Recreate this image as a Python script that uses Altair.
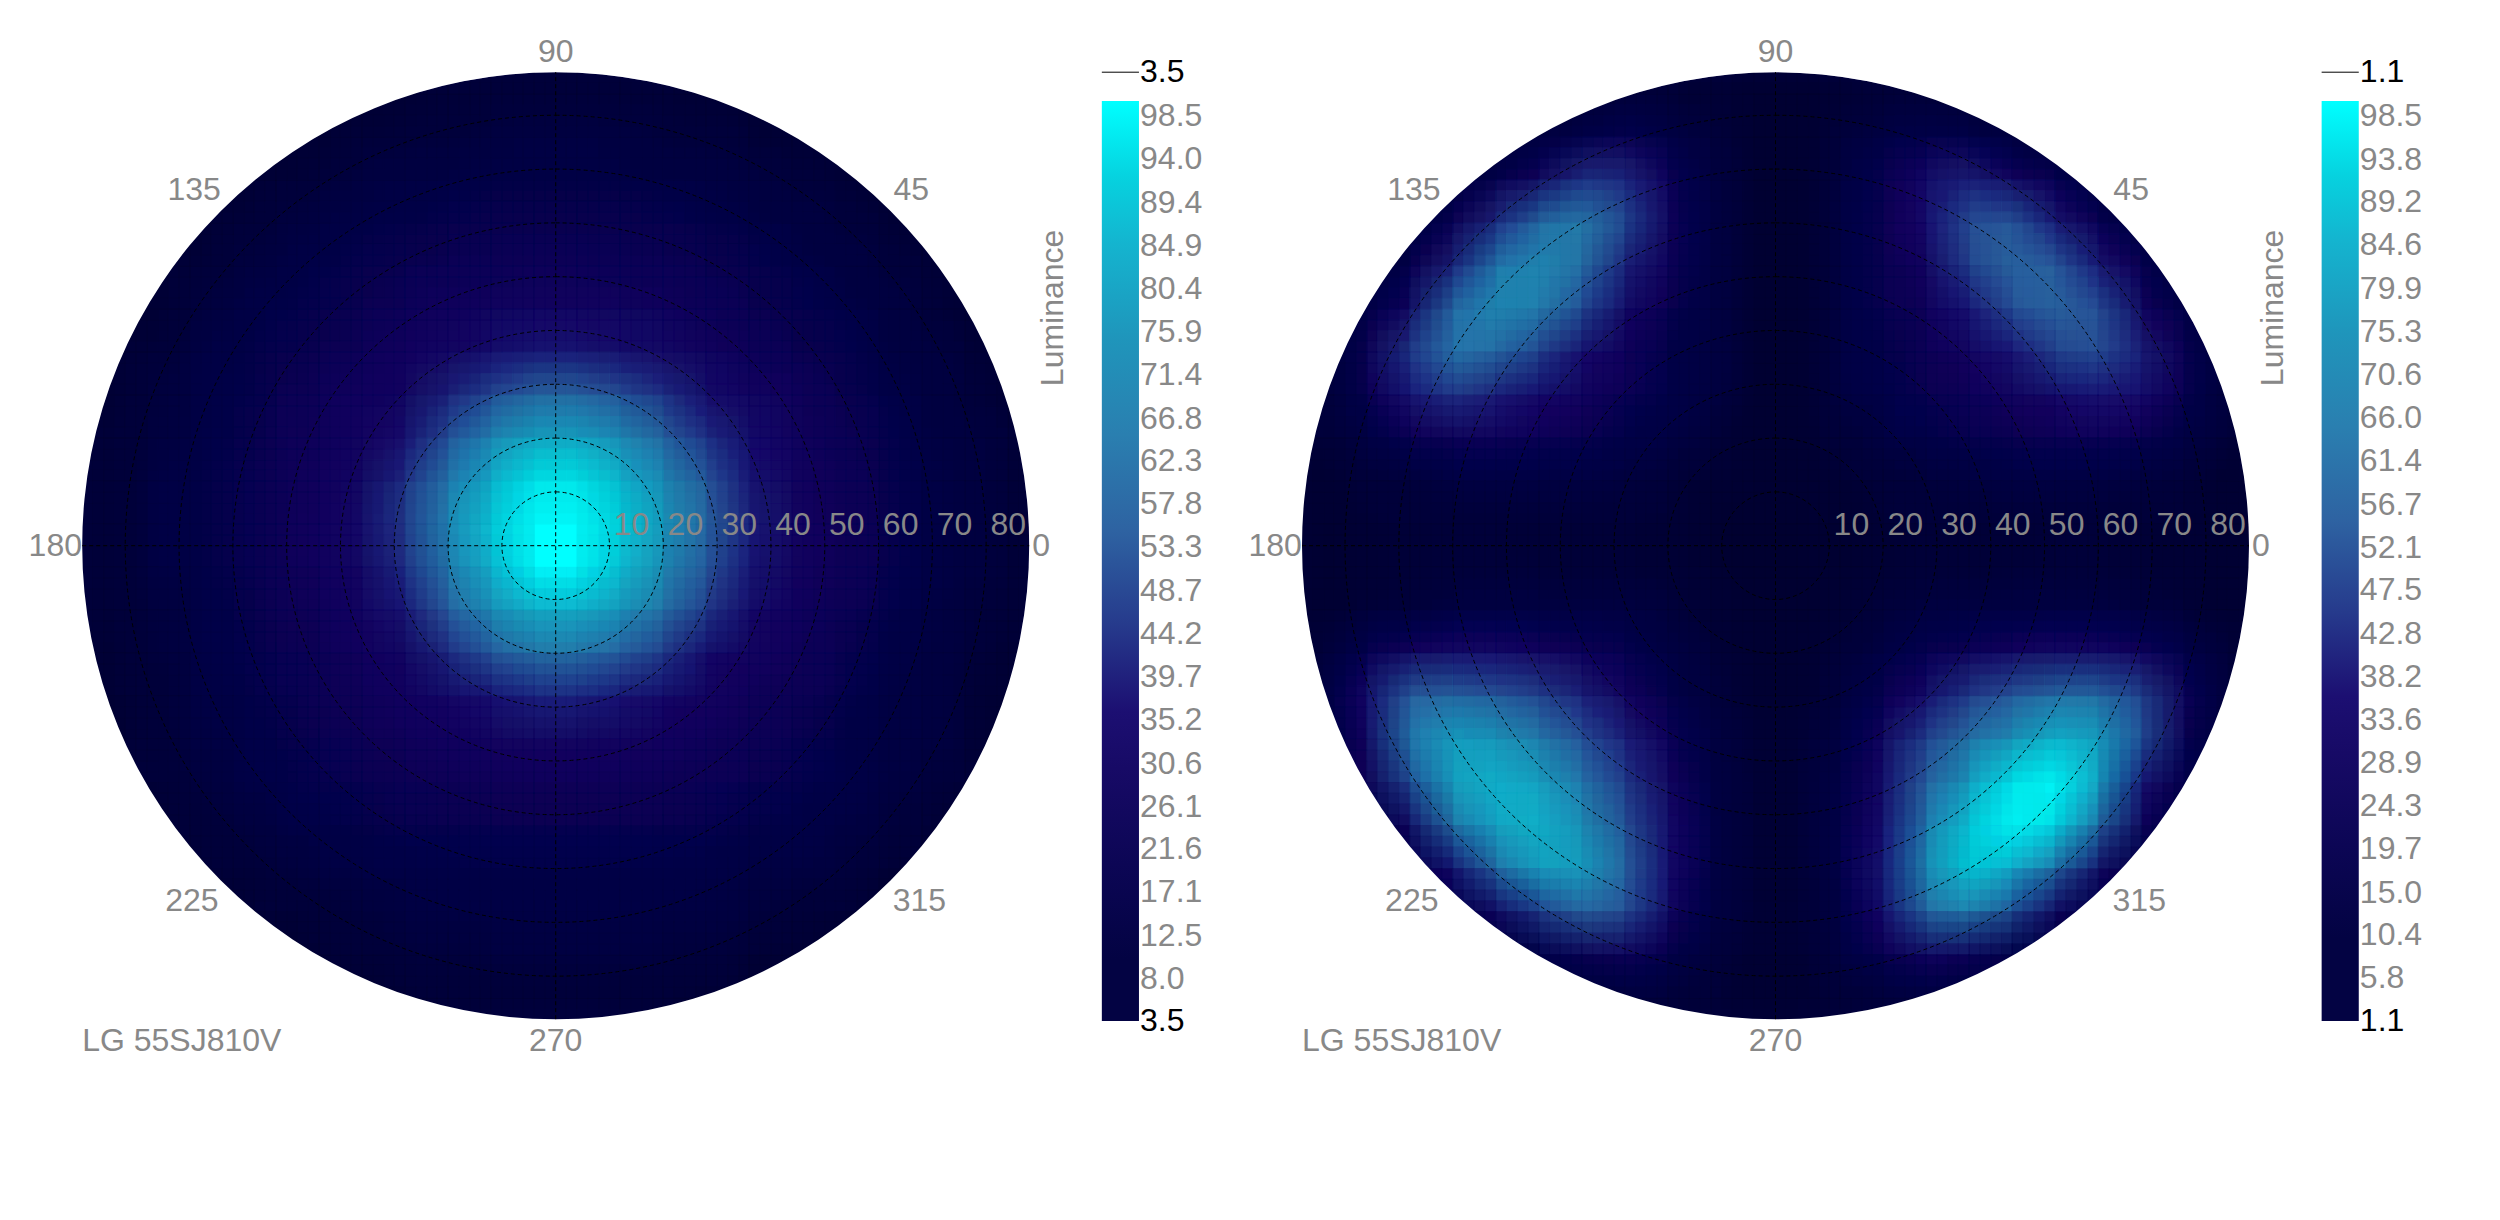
import math
import altair as alt
import pandas as pd

alt.data_transformers.disable_max_rows()

# luminance on an 8-degree grid (0 = outside the disc)
grid_x = [-84,-76,-68,-60,-52,-44,-36,-28,-20,-12,-4,4,12,20,28,36,44,52,60,68,76,84]
grid_y = [84,76,68,60,52,44,36,28,20,12,4,-4,-12,-20,-28,-36,-44,-52,-60,-68,-76,-84]
left_rows = [
 [0,0,0,0,0,0,6,6,7,8,8,8,8,7,6,6,0,0,0,0,0,0],
 [0,0,0,0,5,6,8,9,10,11,12,12,11,10,9,8,6,5,0,0,0,0],
 [0,0,0,6,8,9,11,13,14,15,15,15,15,14,13,11,9,8,6,0,0,0],
 [0,0,6,8,10,13,15,17,19,20,20,20,20,19,17,15,13,10,8,6,0,0],
 [0,5,8,10,13,16,19,21,23,24,25,25,24,23,21,19,16,13,10,8,5,0],
 [0,6,9,13,16,19,22,25,27,29,30,30,29,27,25,22,19,16,13,9,6,0],
 [6,8,11,15,19,22,25,28,31,35,38,38,35,32,29,26,22,19,15,11,8,6],
 [6,9,13,17,21,25,28,30,40,50,58,58,52,44,34,30,27,22,17,13,9,6],
 [7,10,14,18,23,26,30,36,52,70,80,80,72,58,44,34,29,24,19,15,11,7],
 [7,11,15,19,24,27,31,44,64,84,96,96,86,72,54,38,30,25,20,16,11,7],
 [7,11,15,19,24,28,33,47,70,90,100,100,92,76,58,40,31,26,21,16,11,7],
 [7,11,15,19,24,27,32,44,64,86,100,100,88,72,54,38,30,25,20,16,11,7],
 [7,10,14,18,23,26,30,38,56,74,84,84,76,62,46,33,28,24,19,15,10,7],
 [6,9,13,17,21,24,27,31,42,54,62,62,56,46,34,30,26,22,17,13,9,6],
 [6,8,12,15,19,23,25,28,32,37,41,41,38,33,30,26,23,19,15,12,8,6],
 [5,8,11,14,18,21,24,26,28,30,31,31,30,28,26,24,21,18,14,11,8,5],
 [0,7,10,13,16,19,21,23,24,25,25,25,25,24,23,21,19,16,13,10,7,0],
 [0,5,8,10,13,16,18,19,20,21,21,21,21,20,19,18,16,13,10,8,5,0],
 [0,0,6,8,10,12,14,15,16,17,17,17,17,16,15,14,12,10,8,6,0,0],
 [0,0,0,5,7,8,10,12,13,14,14,14,14,13,12,10,8,7,5,0,0,0],
 [0,0,0,0,5,6,8,9,10,11,11,11,11,10,9,8,6,5,0,0,0,0],
 [0,0,0,0,0,0,5,6,7,8,8,8,8,7,6,5,0,0,0,0,0,0],
]
# right panel by quadrant: each row runs outward in |x|, rows run outward in |y|
right_q1 = [
 [4,5,6,7,7,7,8,8,7,6,5],[5,6,8,10,11,12,13,12,10,8,5],[5,8,13,16,19,22,24,24,21,14,7],
 [5,11,16,21,25,29,33,38,36,20,8],[5,12,18,24,30,38,48,52,40,22,8],[5,12,20,26,38,52,58,52,30,14,0],
 [5,12,21,30,48,58,56,38,20,8,0],[5,12,22,36,52,54,38,22,9,0,0],[5,11,20,34,40,30,20,10,0,0,0],
 [5,9,14,18,16,10,6,0,0,0,0],[5,6,7,7,6,0,0,0,0,0,0],
]
right_q2 = [
 [4,5,6,7,7,7,8,8,7,6,5],[5,6,8,10,12,13,13,12,10,8,5],[5,8,13,16,21,24,26,26,21,14,7],
 [5,11,16,23,29,34,40,45,38,20,8],[5,12,18,26,36,48,60,64,46,22,8],[5,13,22,32,50,68,72,60,30,14,0],
 [5,13,25,40,62,72,64,40,18,8,0],[5,12,28,50,66,60,42,22,9,0,0],[5,11,26,42,44,30,18,9,0,0,0],
 [5,9,15,20,16,10,6,0,0,0,0],[5,6,7,7,6,0,0,0,0,0,0],
]
right_q3 = [
 [4,5,6,7,7,8,8,8,7,6,5],[5,6,9,11,12,13,13,12,10,8,5],[5,8,14,20,25,30,33,33,30,20,8],
 [5,10,18,30,40,48,54,58,56,35,10],[6,13,25,40,52,66,76,80,64,30,9],[6,14,30,46,64,80,86,80,50,20,0],
 [6,15,33,52,74,86,82,62,30,10,0],[6,15,35,58,80,80,60,35,14,0,0],[6,13,32,52,58,46,28,14,0,0,0],
 [6,10,18,26,22,14,8,0,0,0,0],[5,7,8,9,7,0,0,0,0,0,0],
]
right_q4 = [
 [4,5,6,7,7,8,8,8,7,6,5],[5,6,9,11,12,13,13,12,10,8,5],[5,8,14,20,25,30,32,32,28,16,7],
 [5,10,20,34,46,54,60,60,48,25,8],[6,13,30,48,62,74,86,80,52,22,8],[6,15,33,56,78,96,100,80,38,15,0],
 [6,16,36,64,90,100,94,58,25,10,0],[6,16,38,72,92,84,60,32,12,0,0],[6,14,35,60,66,50,28,12,0,0,0],
 [6,11,20,30,25,14,8,0,0,0,0],[5,7,9,10,8,0,0,0,0,0,0],
]
right_rows = [q2[::-1] + q1 for q2, q1 in zip(right_q2[::-1], right_q1[::-1])] + \
             [q3[::-1] + q4 for q3, q4 in zip(right_q3, right_q4)]

left_ticks = [98.5,94.0,89.4,84.9,80.4,75.9,71.4,66.8,62.3,57.8,53.3,48.7,44.2,39.7,35.2,30.6,26.1,21.6,17.1,12.5,8.0]
right_ticks = [98.5,93.8,89.2,84.6,79.9,75.3,70.6,66.0,61.4,56.7,52.1,47.5,42.8,38.2,33.6,28.9,24.3,19.7,15.0,10.4,5.8]
left_min, right_min = 3.5, 1.1
rho_labels = [10,20,30,40,50,60,70,80]
angle_labels = [0,45,90,135,180,225,270,315]
title_text = "LG 55SJ810V"

lum_stops = [0, 10, 20, 30, 36, 45, 55, 65, 75, 85, 92, 100]
lum_colors = ["#00002e","#030343","#0c0655","#170a66","#1c0f72","#263a8c","#2e63a2","#2a7fb0","#1f95bb","#14b4cf","#06d2df","#00ffff"]

# layout
W, H = 2484, 1204
K = 473.5 / 88         # px per degree
CX, CY = 547.7, 537.7  # centre of the left disc within the plot area
DX2 = 1219.8 / K       # second panel offset, in degrees
xs = alt.Scale(domain=[-CX / K, (W - CX) / K], range=[0, W], nice=False, zero=False)
ys = alt.Scale(domain=[(CY - H) / K, CY / K], range=[H, 0], nice=False, zero=False)
rs = alt.Scale(type="linear", domain=[0, 110], range=[0, 110 * K], nice=False)
ts = alt.Scale(domain=[0, 360], range=[0, 2 * math.pi])
FONT = "Liberation Sans"
GREY = "#888888"
OFFSETS = (-4, -2, 0, 2, 4)   # overlaid copies of the grid, each at opacity 1/k

X = lambda f: alt.X(f, scale=xs, axis=None)
Y = lambda f: alt.Y(f, scale=ys, axis=None)

def heat(rows, off):
    half = 4.1
    recs = []
    k = 0
    for dy in OFFSETS:
        for dx in OFFSETS:
            k += 1
            for gy, row in zip(grid_y, rows):
                for gx, v in zip(grid_x, row):
                    if v > 0:
                        recs.append(dict(x=round(gx + dx - half + off, 2), x2=round(gx + dx + half + off, 2),
                                         y=round(gy + dy - half, 2), y2=round(gy + dy + half, 2), v=v, op=round(1 / k, 4)))
    return alt.Chart(pd.DataFrame(recs)).mark_rect(strokeWidth=0).encode(
        x=X("x:Q"), x2="x2:Q", y=Y("y:Q"), y2="y2:Q",
        color=alt.Color("v:Q", scale=alt.Scale(domain=lum_stops, range=lum_colors, interpolate="rgb", clamp=True), legend=None),
        opacity=alt.Opacity("op:Q", scale=None),
    )

def disc(off, r, r2, style):
    d = pd.DataFrame([dict(cx=off, cy=0, t=0, t2=360, r=r, r2=r2)])
    return alt.Chart(d).mark_arc(**style).encode(
        x=X("cx:Q"), y=Y("cy:Q"),
        theta=alt.Theta("t:Q", scale=ts, stack=None), theta2="t2:Q",
        radius=alt.Radius("r:Q", scale=rs), radius2="r2:Q",
    )

def rings(off):
    d = pd.DataFrame([dict(cx=off, cy=0, t=0, t2=360, r=r) for r in rho_labels])
    return alt.Chart(d).mark_arc(filled=False, stroke="black", strokeWidth=1, strokeDash=[4, 3]).encode(
        x=X("cx:Q"), y=Y("cy:Q"),
        theta=alt.Theta("t:Q", scale=ts, stack=None), theta2="t2:Q",
        radius=alt.Radius("r:Q", scale=rs),
    )

def cross(off):
    d = pd.DataFrame([dict(x=off - 88, x2=off + 88, y=0, y2=0), dict(x=off, x2=off, y=-88, y2=88)])
    return alt.Chart(d).mark_rule(color="black", strokeWidth=1, strokeDash=[4, 3]).encode(
        x=X("x:Q"), x2="x2:Q", y=Y("y:Q"), y2="y2:Q")

def texts(off, vmin, ticks):
    layers = []
    base = dict(font=FONT, fontSize=32, color=GREY)
    d = pd.DataFrame([dict(x=off + r + 0.8, y=4, t=str(r)) for r in rho_labels])
    layers.append(alt.Chart(d).mark_text(align="left", baseline="middle", dy=1, **base).encode(x=X("x:Q"), y=Y("y:Q"), text="t:N"))
    pos = {0: (90.2, 0), 45: (66.1, 66.1), 90: (0, 91.7), 135: (-67.2, 66.1), 180: (-93.0, 0),
           225: (-67.6, -66.1), 270: (0, -92.0), 315: (67.6, -66.1)}
    d = pd.DataFrame([dict(x=off + pos[a][0], y=pos[a][1], t=str(a)) for a in angle_labels])
    layers.append(alt.Chart(d).mark_text(align="center", baseline="middle", **base).encode(x=X("x:Q"), y=Y("y:Q"), text="t:N"))
    d = pd.DataFrame([dict(x=off - 88.0, y=-92.0, t=title_text)])
    layers.append(alt.Chart(d).mark_text(align="left", baseline="middle", **base).encode(x=X("x:Q"), y=Y("y:Q"), text="t:N"))
    d = pd.DataFrame([dict(x=off + 92.5, y=44.2, t="Luminance")])
    layers.append(alt.Chart(d).mark_text(align="center", baseline="middle", angle=270, **base).encode(x=X("x:Q"), y=Y("y:Q"), text="t:N"))
    # colour bar
    stops = [alt.GradientStop(offset=max(0, (s - vmin) / (100 - vmin)), color=c) for s, c in zip(lum_stops, lum_colors) if s >= vmin]
    grad = alt.Gradient(gradient="linear", stops=stops, x1=0, x2=0, y1=1, y2=0)
    bar_l, bar_r = off + 101.5, off + 108.4
    vs = alt.Scale(domain=[vmin, 100], range=[1013, 93], nice=False, zero=False)
    d = pd.DataFrame([dict(x=bar_l, x2=bar_r, v=vmin, v2=100)])
    layers.append(alt.Chart(d).mark_rect(fill=grad, strokeWidth=0).encode(
        x=X("x:Q"), x2="x2:Q", y=alt.Y("v:Q", scale=vs, axis=None), y2="v2:Q"))
    lx = off + 108.6
    d = pd.DataFrame([dict(x=lx, v=t, t=f"{t:.1f}") for t in ticks])
    layers.append(alt.Chart(d).mark_text(align="left", baseline="middle", dy=1, **base).encode(
        x=X("x:Q"), y=alt.Y("v:Q", scale=vs, axis=None), text="t:N"))
    d = pd.DataFrame([dict(x=lx, v=vmin, t=f"{vmin:.1f}")])
    layers.append(alt.Chart(d).mark_text(align="left", baseline="middle", font=FONT, fontSize=32, color="black").encode(
        x=X("x:Q"), y=alt.Y("v:Q", scale=vs, axis=None), text="t:N"))
    # minimum marker above the bar
    d = pd.DataFrame([dict(x=bar_l, x2=bar_r, y=88.0, t=f"{vmin:.1f}", lx=lx)])
    layers.append(alt.Chart(d).mark_rule(color="black", strokeWidth=1).encode(x=X("x:Q"), x2="x2:Q", y=Y("y:Q")))
    layers.append(alt.Chart(d).mark_text(align="left", baseline="middle", font=FONT, fontSize=32, color="black").encode(
        x=X("lx:Q"), y=Y("y:Q"), text="t:N"))
    return layers

def panel(rows, off, vmin, ticks):
    under = disc(off, 88, 0, dict(fill="#01013f", strokeWidth=0))
    mask = disc(off, 104, 88, dict(fill="white", strokeWidth=0))
    return [under, heat(rows, off), mask, rings(off), cross(off)] + texts(off, vmin, ticks)

layers = panel(left_rows, 0, left_min, left_ticks) + panel(right_rows, DX2, right_min, right_ticks)
chart = alt.layer(*layers).resolve_scale(y="independent").properties(
    width=W, height=H, padding=0,
    autosize=alt.AutoSizeParams(type="none"),
).configure_view(stroke=None)

chart.save("out.html", embed_options={"renderer": "svg", "actions": False})
